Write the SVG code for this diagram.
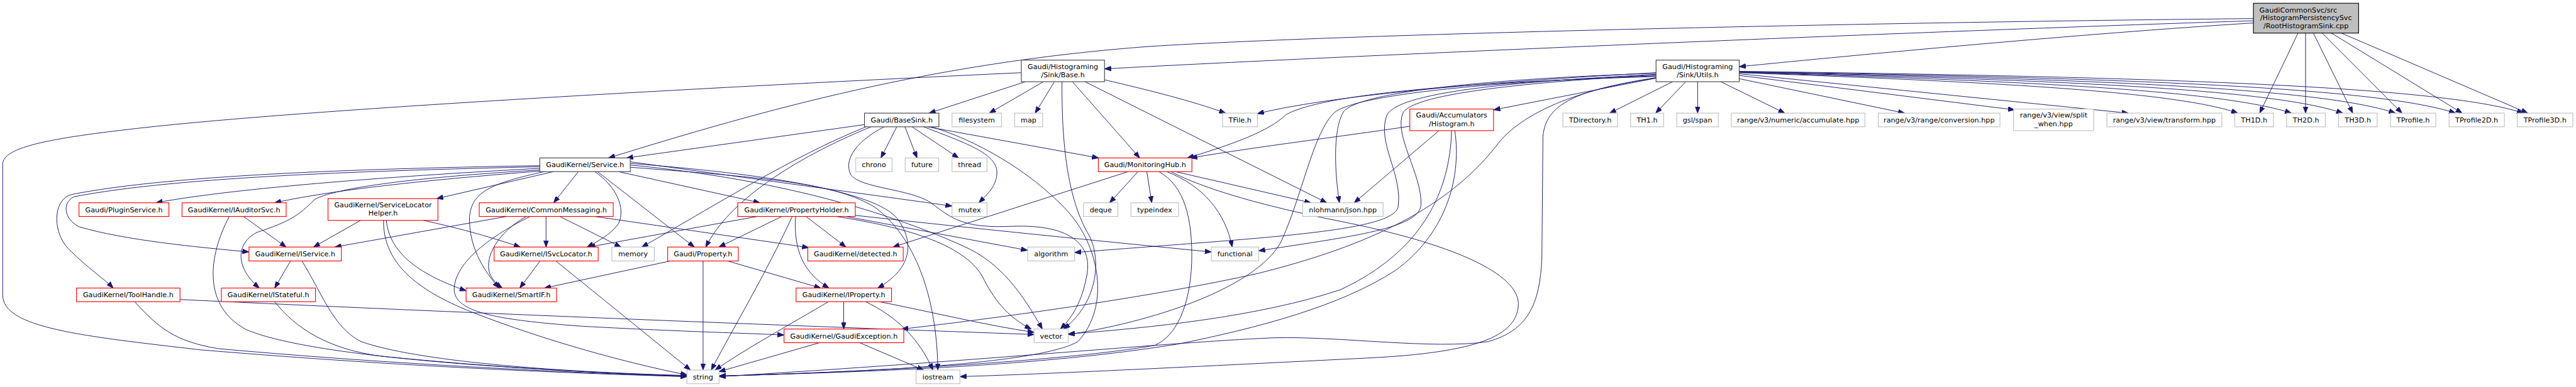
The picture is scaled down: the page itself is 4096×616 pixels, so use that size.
<svg xmlns="http://www.w3.org/2000/svg" width="4096" height="616" viewBox="0 0 4096 616">
<defs>
<marker id="a" viewBox="0 0 12 9" refX="12" refY="4.5" markerWidth="12" markerHeight="9" markerUnits="userSpaceOnUse" orient="auto"><path d="M0,0 L12,4.5 L0,9 z" fill="#191970" stroke="#191970" stroke-width="1"/></marker>
<style>
.n rect{fill:#fff;stroke-width:1.3}
.k rect{stroke:#404040}
.r rect{stroke:#ff0000}
.g rect{stroke:#bfbfbf}
.rt rect{fill:#bfbfbf;stroke:#000}
text{font-family:"DejaVu Sans",sans-serif;font-size:12.9px;text-anchor:middle;fill:#000}
text.l{text-anchor:start}
.e path{fill:none;stroke:#191970;stroke-width:1.1;marker-end:url(#a)}
</style>
</defs>
<rect x="0" y="0" width="4096" height="616" fill="#fff"/>
<g transform="scale(0.870)">
<g class="e" id="edges">
<path d="M4200,60.5 L4130,207"/>
<path d="M4213.8,60.5 L4213.8,207"/>
<path d="M4228,60.5 L4300,207"/>
<path d="M4244,60.5 L4390,207"/>
<path d="M4261,60.5 L4500,207"/>
<path d="M4279,60.5 L4620,207"/>
<path d="M4118.5,42 C3800,62 3400,100 3178.7,122"/>
<path d="M4118.5,38 C3500,58 2500,100 2018.7,126"/>
<path d="M4118.5,34 C3500,40 2500,60 2100,85 C1700,115 1400,200 1112,289"/>
<path d="M1874,149.5 L1698,207"/>
<path d="M1907,149.5 L1808,207"/>
<path d="M1927,149.5 L1892,207"/>
<path d="M1941,149.5 C1940,280 1955,370 1990,430 C2012,470 2010,550 1944,602"/>
<path d="M1960,149.5 L2083,289"/>
<path d="M2018.7,146 C2100,165 2180,185 2240,207"/>
<path d="M1983,149.5 L2425,371"/>
<path d="M1866.6,133 C1500,150 600,195 250,235 C100,252 5,268 5,300 L5,540 C5,600 150,615 366,640 C700,668 1000,682 1255.5,689"/>
<path d="M3057,149.5 L2942,207"/>
<path d="M3081,149.5 L3026,207"/>
<path d="M3102.7,149.5 L3102.7,207"/>
<path d="M3145,149.5 L3262,207"/>
<path d="M3178.7,144 L3481,207"/>
<path d="M3178.7,138 L3682,201"/>
<path d="M3178.7,135 L3890,207"/>
<path d="M3178.7,133 C3650,150 3980,168 4090,207"/>
<path d="M3178.7,132.5 C3700,148 4060,165 4188,207"/>
<path d="M3178.7,132 C3750,146 4150,162 4282,207"/>
<path d="M3178.7,131.5 C3800,144 4240,160 4378,207"/>
<path d="M3178.7,131 C3850,142 4340,158 4488,207"/>
<path d="M3178.7,130.5 C3900,140 4460,156 4612,207"/>
<path d="M3026.7,143 L2730,201"/>
<path d="M3026.7,133 C2800,145 2450,170 2298,208"/>
<path d="M3026.7,140 C2700,150 2420,170 2350,210 C2320,240 2250,265 2170,289"/>
<path d="M3026.7,134 C2700,145 2480,170 2455,205 C2435,240 2440,320 2448,371"/>
<path d="M3026.7,136 C2800,148 2560,165 2535,210 C2515,260 2565,320 2555,380 C2540,425 2300,435 1964,462"/>
<path d="M3026.7,137 C2800,150 2590,170 2565,205 C2545,245 2600,320 2597,375 C2595,420 2450,435 2300.3,459"/>
<path d="M3026.7,139 C2700,150 2480,175 2440,205 C2400,240 2380,360 2340,445 C2290,530 2100,590 1952.3,612"/>
<path d="M3026.7,143 C2900,160 2790,200 2740,260 C2650,380 2500,450 2300,500 C2100,545 1800,585 1648,602"/>
<path d="M3026.7,142 C2880,165 2825,190 2820,250 L2818,470 C2815,560 2790,605 2720,625 C2620,640 2450,615 2330,618 C2150,625 1800,660 1314.2,689"/>
<path d="M2576.7,231 C2450,250 2300,268 2176,289"/>
<path d="M2630,239 L2475,371"/>
<path d="M2653,239 C2650,350 2600,460 2450,530 C2300,580 2100,600 1952.3,611"/>
<path d="M2659,239 C2672,330 2640,430 2550,495 C2450,560 2300,600 2150,630 C1900,670 1600,680 1314.2,688"/>
<path d="M1580,228 L1145,289"/>
<path d="M1639,232 L1610,289"/>
<path d="M1654,232 L1676,289"/>
<path d="M1667,232 L1752,289"/>
<path d="M1688,232 C1760,260 1822,280 1822,315 C1822,340 1805,355 1789,371"/>
<path d="M1695,232 L2008,289"/>
<path d="M1583,232 C1450,285 1300,380 1173,452"/>
<path d="M1592,232 C1450,290 1330,370 1290,452"/>
<path d="M1616,232 C1570,255 1540,290 1555,320 C1575,345 1660,345 1700,370 C1740,400 1760,418 1850,414 C1960,410 2000,450 1985,510 C1975,560 1955,585 1938,602"/>
<path d="M1702,232 C1780,255 1880,310 1950,385 C2010,450 2030,560 1970,625 C1900,665 1600,680 1314.2,688"/>
<path d="M986.6,303 C700,308 320,318 130,356 C95,366 95,430 130,460 C160,490 190,510 207,527"/>
<path d="M986.6,305 C700,312 330,322 135,360 C112,372 118,402 145,415 C230,440 360,452 455,461"/>
<path d="M986.6,308 C800,318 450,340 285,371"/>
<path d="M986.6,311 C800,322 620,340 575,365 C545,395 530,405 470,425 C430,445 430,490 474,527"/>
<path d="M986.6,313 C800,328 620,345 502,371"/>
<path d="M995,314 C900,335 860,350 858,400 C858,450 880,490 912,527"/>
<path d="M1057,314 L1012,371"/>
<path d="M1087,314 C1125,340 1145,380 1130,410 C1115,430 1090,443 1073,452"/>
<path d="M1092,314 L1269,452"/>
<path d="M1130,314 L1389,371"/>
<path d="M1012,314 L798,363.4"/>
<path d="M1151.9,296 L1740,377"/>
<path d="M1151.9,302 C1450,330 1650,400 1760,450 C1830,480 1870,540 1905,602"/>
<path d="M1151.9,306 C1400,325 1530,335 1600,380 C1680,440 1713,560 1714,677"/>
<path d="M1151.9,299 C1400,318 1600,350 1640,400 C1670,440 1670,490 1604,527"/>
<path d="M998,396 L998,452"/>
<path d="M1023,396 L1135,452"/>
<path d="M962,396 C910,425 885,470 895,500 C900,512 908,520 918,527"/>
<path d="M969,396 C900,430 830,480 830,530 C832,570 900,585 1066,597 C1250,607 1380,610 1433,613"/>
<path d="M926,396 L612,452"/>
<path d="M1087,396 L1478,453"/>
<path d="M659,403.2 L573,452"/>
<path d="M774,403.2 C850,420 900,435 951,452"/>
<path d="M706,403.2 C712,460 760,500 852,532"/>
<path d="M701,403.2 C700,480 760,530 860,570 C1000,625 1150,665 1256,686"/>
<path d="M445,396 L523,452"/>
<path d="M419,396 C380,470 370,560 450,603 C560,650 900,675 1255.5,688"/>
<path d="M531,477.5 L502,527"/>
<path d="M552,477.5 C590,540 610,600 660,625 C760,660 1000,680 1255.5,687"/>
<path d="M502,552 C540,600 600,640 700,652 C900,672 1100,683 1255.5,688"/>
<path d="M246,552 C290,600 320,625 400,638 C700,665 1000,680 1255.5,689"/>
<path d="M329,548 C900,575 1500,598 1890,612"/>
<path d="M987,477.5 L950,527"/>
<path d="M1016,477.5 L1262,677"/>
<path d="M1225,477.5 L995,527"/>
<path d="M1285,477.5 L1285,677"/>
<path d="M1330,477.5 L1500,527"/>
<path d="M1384,396 L1076,452"/>
<path d="M1429,396 L1314,452"/>
<path d="M1448,396 C1400,500 1340,600 1300,677"/>
<path d="M1454,396 C1450,460 1470,500 1515,527"/>
<path d="M1473,396 L1546,452"/>
<path d="M1528,396 C1650,415 1760,445 1795,505 C1815,545 1840,580 1885,602"/>
<path d="M1546,396 L1878,458"/>
<path d="M1563,394 C1800,420 2000,440 2214,461"/>
<path d="M1542,552 L1542,602"/>
<path d="M1514,552 C1450,590 1360,640 1307,677"/>
<path d="M1582,552 C1640,580 1680,620 1705,677"/>
<path d="M1607,552 C1700,570 1800,595 1890,608"/>
<path d="M1498,627 L1314,680"/>
<path d="M1571,627 L1688,677"/>
<path d="M2062,314 L1632,452"/>
<path d="M2080,314 L2028,371"/>
<path d="M2096,314 L2105,371"/>
<path d="M2118,314 C2165,340 2180,400 2178,480 C2175,560 2150,615 2110,632 C1950,660 1600,680 1314.2,688"/>
<path d="M2132,314 C2200,340 2240,390 2252,452"/>
<path d="M2148,314 L2396,371"/>
<path d="M2140,314 C2200,345 2300,375 2450,405 C2650,445 2780,500 2775,560 C2770,615 2700,645 2500,655 C2200,670 1900,685 1754.4,689"/>
</g>
<g id="root" class="n rt"><rect x="4118.5" y="6" width="192.2" height="54.5"/><text class="l" x="4129.4" y="22.5">GaudiCommonSvc/src</text><text x="4214.6" y="37">/HistogramPersistencySvc</text><text x="4214.6" y="51.5">/RootHistogramSink.cpp</text></g>
<g id="base" class="n k"><rect x="1866.6" y="110" width="152.1" height="39.5"/><text x="1942.65" y="126">Gaudi/Histograming</text><text x="1942.65" y="141">/Sink/Base.h</text></g>
<g id="utils" class="n k"><rect x="3026.7" y="110" width="152" height="39.5"/><text x="3102.7" y="126">Gaudi/Histograming</text><text x="3102.7" y="141">/Sink/Utils.h</text></g>
<g id="basesink" class="n k"><rect x="1580" y="207" width="136" height="25"/><text x="1648" y="224">Gaudi/BaseSink.h</text></g>
<g id="filesystem" class="n g"><rect x="1740" y="207" width="90.4" height="25"/><text x="1785.2" y="224">filesystem</text></g>
<g id="map" class="n g"><rect x="1854.4" y="207" width="51" height="25"/><text x="1879.9" y="224">map</text></g>
<g id="tfile" class="n g"><rect x="2234.5" y="207" width="63.8" height="25"/><text x="2266.4" y="224">TFile.h</text></g>
<g id="accum" class="n r"><rect x="2576.7" y="199.5" width="153" height="39.5"/><text x="2653.2" y="215.5">Gaudi/Accumulators</text><text x="2653.2" y="230.5">/Histogram.h</text></g>
<g id="tdirectory" class="n g"><rect x="2856.3" y="207" width="100" height="25"/><text x="2906.3" y="224">TDirectory.h</text></g>
<g id="th1" class="n g"><rect x="2980.3" y="207" width="60.2" height="25"/><text x="3010.4" y="224">TH1.h</text></g>
<g id="gslspan" class="n g"><rect x="3064.5" y="207" width="76" height="25"/><text x="3102.5" y="224">gsl/span</text></g>
<g id="accumulate" class="n g"><rect x="3164.4" y="207" width="244" height="25"/><text x="3286.4" y="224">range/v3/numeric/accumulate.hpp</text></g>
<g id="conversion" class="n g"><rect x="3432.8" y="207" width="222.4" height="25"/><text x="3544" y="224">range/v3/range/conversion.hpp</text></g>
<g id="splitwhen" class="n g"><rect x="3680.2" y="199.5" width="146.4" height="39.5"/><text x="3753.4" y="215.5">range/v3/view/split</text><text x="3753.4" y="230.5">_when.hpp</text></g>
<g id="transform" class="n g"><rect x="3850.6" y="207" width="210.2" height="25"/><text x="3955.7" y="224">range/v3/view/transform.hpp</text></g>
<g id="th1d" class="n g"><rect x="4084.5" y="207" width="70.6" height="25"/><text x="4119.8" y="224">TH1D.h</text></g>
<g id="th2d" class="n g"><rect x="4179.3" y="207" width="70.6" height="25"/><text x="4214.6" y="224">TH2D.h</text></g>
<g id="th3d" class="n g"><rect x="4274.1" y="207" width="70.6" height="25"/><text x="4309.4" y="224">TH3D.h</text></g>
<g id="tprofile" class="n g"><rect x="4368.9" y="207" width="83" height="25"/><text x="4410.4" y="224">TProfile.h</text></g>
<g id="tprofile2d" class="n g"><rect x="4476.1" y="207" width="101" height="25"/><text x="4526.6" y="224">TProfile2D.h</text></g>
<g id="tprofile3d" class="n g"><rect x="4600.8" y="207" width="101.5" height="25"/><text x="4651.5" y="224">TProfile3D.h</text></g>
<g id="service" class="n k"><rect x="986.6" y="289" width="165.3" height="25"/><text x="1069.25" y="306">GaudiKernel/Service.h</text></g>
<g id="chrono" class="n g"><rect x="1564" y="289" width="66.4" height="25"/><text x="1597.2" y="306">chrono</text></g>
<g id="future" class="n g"><rect x="1654.4" y="289" width="61.2" height="25"/><text x="1685" y="306">future</text></g>
<g id="thread" class="n g"><rect x="1740" y="289" width="63.9" height="25"/><text x="1772" y="306">thread</text></g>
<g id="monhub" class="n r"><rect x="2007.4" y="289" width="171" height="25"/><text x="2092.9" y="306">Gaudi/MonitoringHub.h</text></g>
<g id="plugin" class="n r"><rect x="144.4" y="371" width="164.3" height="25"/><text x="226.5" y="388">Gaudi/PluginService.h</text></g>
<g id="iauditor" class="n r"><rect x="332.7" y="371" width="190.3" height="25"/><text x="427.85" y="388">GaudiKernel/IAuditorSvc.h</text></g>
<g id="slhelper" class="n r"><rect x="599.5" y="363.4" width="200.9" height="39.8"/><text x="700" y="379.5">GaudiKernel/ServiceLocator</text><text x="700" y="394.5">Helper.h</text></g>
<g id="commonmsg" class="n r"><rect x="875.9" y="371" width="244.9" height="25"/><text x="998.35" y="388">GaudiKernel/CommonMessaging.h</text></g>
<g id="propholder" class="n r"><rect x="1348.4" y="371" width="214.8" height="25"/><text x="1455.8" y="388">GaudiKernel/PropertyHolder.h</text></g>
<g id="mutex" class="n g"><rect x="1740" y="371" width="64" height="25"/><text x="1772" y="388">mutex</text></g>
<g id="deque" class="n g"><rect x="1980.4" y="371" width="62.8" height="25"/><text x="2011.8" y="388">deque</text></g>
<g id="typeindex" class="n g"><rect x="2067" y="371" width="86.9" height="25"/><text x="2110.45" y="388">typeindex</text></g>
<g id="json" class="n g"><rect x="2380.8" y="371" width="147" height="25"/><text x="2454.3" y="388">nlohmann/json.hpp</text></g>
<g id="iservice" class="n r"><rect x="455" y="452" width="169" height="25.5"/><text x="539.5" y="469">GaudiKernel/IService.h</text></g>
<g id="isvclocator" class="n r"><rect x="903" y="452" width="190.3" height="25.5"/><text x="998.15" y="469">GaudiKernel/ISvcLocator.h</text></g>
<g id="memory" class="n g"><rect x="1118.3" y="452" width="77.5" height="25.5"/><text x="1157" y="469">memory</text></g>
<g id="property" class="n r"><rect x="1220.3" y="452" width="129.1" height="25.5"/><text x="1284.85" y="469">Gaudi/Property.h</text></g>
<g id="detected" class="n r"><rect x="1476.4" y="452" width="174.4" height="25.5"/><text x="1563.6" y="469">GaudiKernel/detected.h</text></g>
<g id="algorithm" class="n g"><rect x="1878.4" y="452" width="85.6" height="25.5"/><text x="1921.2" y="469">algorithm</text></g>
<g id="functional" class="n g"><rect x="2214" y="452" width="86.3" height="25.5"/><text x="2257.15" y="469">functional</text></g>
<g id="toolhandle" class="n r"><rect x="139.8" y="527" width="189.2" height="25"/><text x="234.4" y="544">GaudiKernel/ToolHandle.h</text></g>
<g id="istateful" class="n r"><rect x="404.6" y="527" width="171.9" height="25"/><text x="490.55" y="544">GaudiKernel/IStateful.h</text></g>
<g id="smartif" class="n r"><rect x="851.9" y="527" width="165.3" height="25"/><text x="934.55" y="544">GaudiKernel/SmartIF.h</text></g>
<g id="iproperty" class="n r"><rect x="1455" y="527" width="174.4" height="25"/><text x="1542.2" y="544">GaudiKernel/IProperty.h</text></g>
<g id="gaudiexc" class="n r"><rect x="1433" y="602" width="218.8" height="25"/><text x="1542.4" y="619">GaudiKernel/GaudiException.h</text></g>
<g id="vector" class="n g"><rect x="1890" y="602" width="62.3" height="25"/><text x="1921.15" y="619">vector</text></g>
<g id="string" class="n g"><rect x="1255.5" y="677" width="58.7" height="25"/><text x="1284.85" y="694">string</text></g>
<g id="iostream" class="n g"><rect x="1674.3" y="677" width="80.1" height="25"/><text x="1714.35" y="694">iostream</text></g>
</g>
</svg>
